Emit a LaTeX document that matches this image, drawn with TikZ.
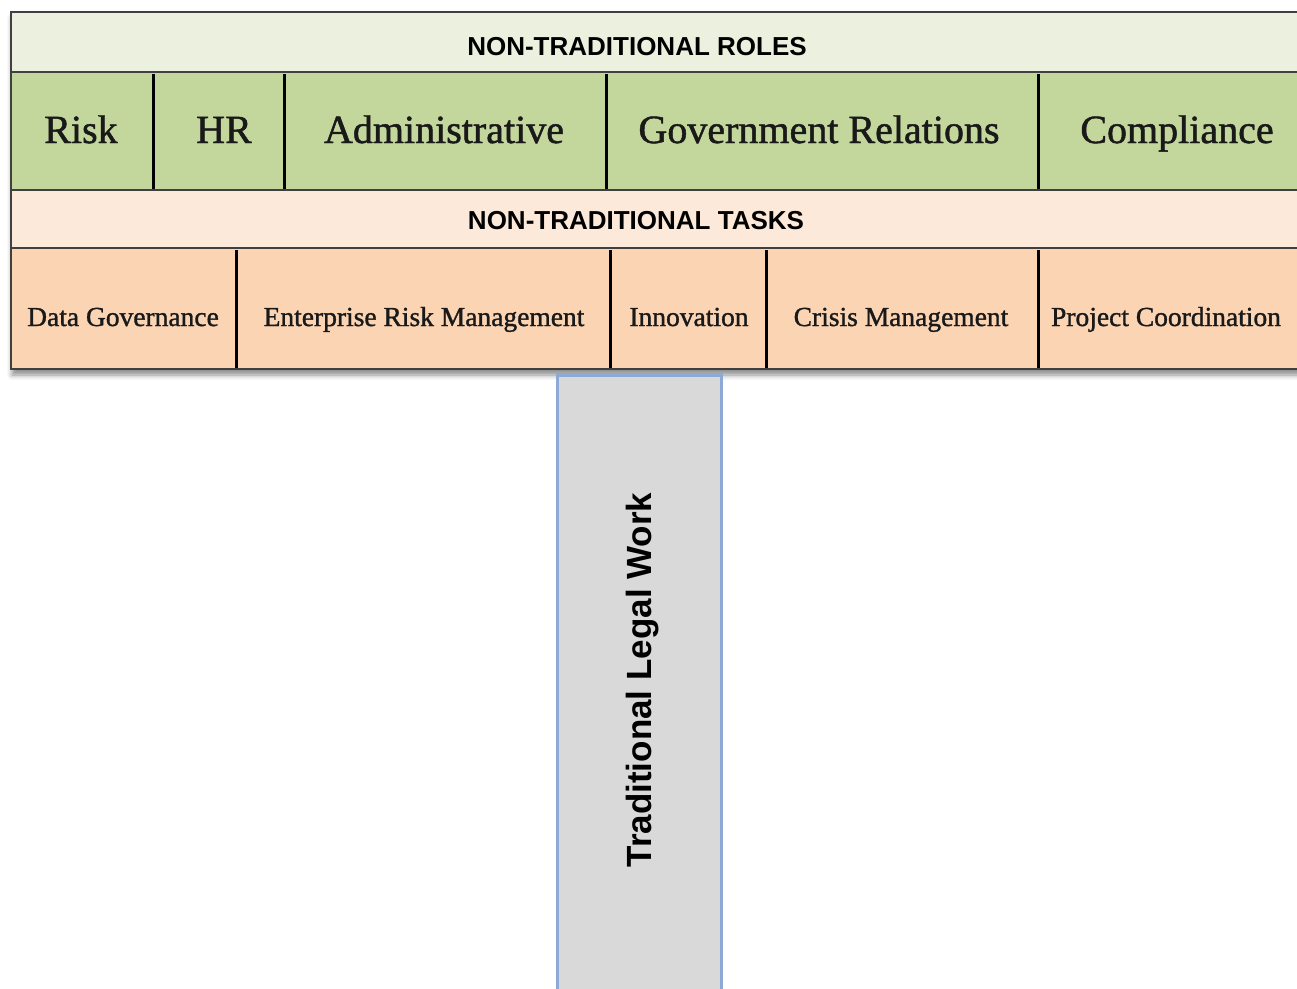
\documentclass[tikz,border=0pt]{standalone}
\usepackage{fontspec}
\setmainfont{Liberation Serif}
\setsansfont{Liberation Sans}
\newfontfamily\cellserif[FakeBold=1.2]{Liberation Serif}
\usetikzlibrary{shadows.blur}

\definecolor{roleband}{HTML}{EBF1DE}
\definecolor{rolecell}{HTML}{C3D69B}
\definecolor{taskband}{HTML}{FDE9D9}
\definecolor{taskcell}{HTML}{FBD4B4}
\definecolor{framegray}{HTML}{404040}
\definecolor{pillarfill}{HTML}{D9D9D9}
\definecolor{pillaredge}{HTML}{8EA9D6}

\begin{document}
\begin{tikzpicture}[x=1pt,y=-1pt,
  headtext/.style={font=\sffamily\bfseries\fontsize{26}{26}\selectfont, anchor=base, inner sep=0pt},
  roletext/.style={font=\cellserif\fontsize{40}{40}\selectfont, anchor=base, inner sep=0pt, text=black!90},
  tasktext/.style={font=\cellserif\fontsize{27.5}{27.5}\selectfont, anchor=base, inner sep=0pt, text=black!90},
  rule/.style={draw=framegray, line width=2.5pt},
  divider/.style={draw=black, line width=3pt},
]
\useasboundingbox (0,0) rectangle (1297,988);

% table background with a soft drop shadow
\path[fill=white, blur shadow={shadow xshift=1pt, shadow yshift=-6pt,
      shadow blur radius=5pt, shadow opacity=45}] (11,12) rectangle (1330,369);

% bands
\fill[roleband] (11,12) rectangle (1330,72);
\fill[rolecell] (11,72) rectangle (1330,190);
\fill[taskband] (11,190) rectangle (1330,248);
\fill[taskcell] (11,248) rectangle (1330,369);

% horizontal rules and outer frame
\draw[rule] (1330,12) -- (11,12) -- (11,369) -- (1330,369);
\draw[rule] (11,72) -- (1330,72);
\draw[rule] (11,190) -- (1330,190);
\draw[rule] (11,248) -- (1330,248);

% role dividers
\coordinate (r1t) at (153,74);  \coordinate (r1b) at (153,189);
\coordinate (r2t) at (284,74);  \coordinate (r2b) at (284,189);
\coordinate (r3t) at (606,74);  \coordinate (r3b) at (606,189);
\coordinate (r4t) at (1038,74); \coordinate (r4b) at (1038,189);
\foreach \i in {1,...,4} \draw[divider] (r\i t) -- (r\i b);

% task dividers
\coordinate (t1t) at (236,250);  \coordinate (t1b) at (236,368);
\coordinate (t2t) at (610,250);  \coordinate (t2b) at (610,368);
\coordinate (t3t) at (766,250);  \coordinate (t3b) at (766,368);
\coordinate (t4t) at (1038,250); \coordinate (t4b) at (1038,368);
\foreach \i in {1,...,4} \draw[divider] (t\i t) -- (t\i b);

% headings
\node[headtext] (roleshead) at (637,55) {NON-TRADITIONAL ROLES};
\node[headtext] (taskshead) at (636,229) {NON-TRADITIONAL TASKS};

% roles
\node[roletext] (risk)  at (81,143)   {Risk};
\node[roletext] (hr)    at (224,143)  {HR};
\node[roletext] (admin) at (444,143)  {Administrative};
\node[roletext] (gov)   at (819,143)  {Government Relations};
\node[roletext] (comp)  at (1177,143) {Compliance};

% tasks
\node[tasktext] (data)   at (123,326)  {Data Governance};
\node[tasktext] (erm)    at (424,326)  {Enterprise Risk Management};
\node[tasktext] (innov)  at (689,326)  {Innovation};
\node[tasktext] (crisis) at (901,326)  {Crisis Management};
\node[tasktext] (proj)   at (1166,326) {Project Coordination};

% traditional legal work column
\node[draw=pillaredge, fill=pillarfill, line width=3.5pt, inner sep=0pt,
      minimum width=164pt, minimum height=640pt, anchor=north] (pillar) at (639.5,373) {};
\node[font=\sffamily\bfseries\fontsize{35}{35}\selectfont, rotate=90, anchor=base,
      inner sep=0pt] (legal) at (651,680) {Traditional Legal Work};
\end{tikzpicture}
\end{document}
